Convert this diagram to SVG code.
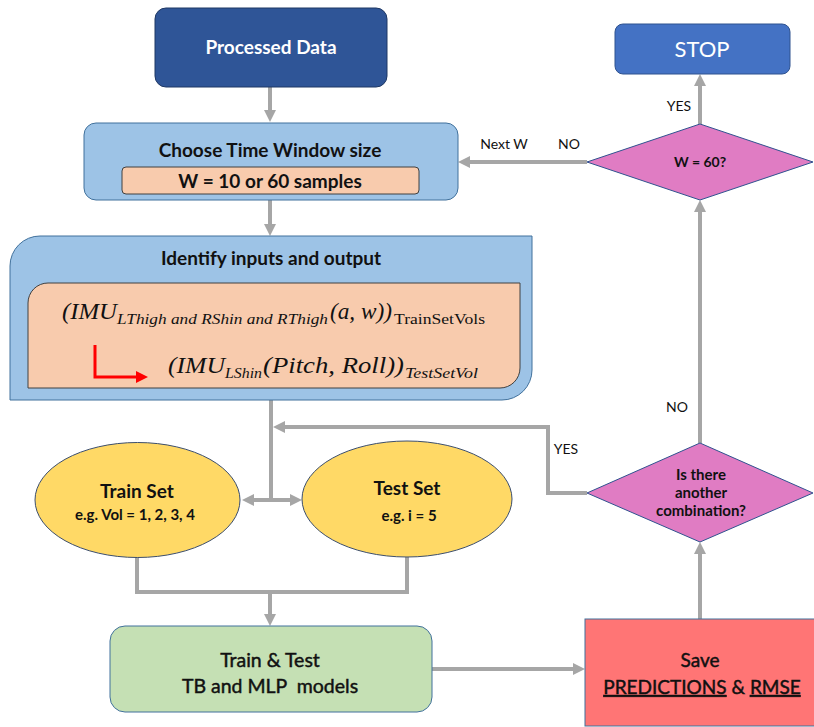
<svg xmlns="http://www.w3.org/2000/svg" width="814" height="727" viewBox="0 0 814 727">
  <style>
    .lbl { font-family: "Lato", "Liberation Sans", sans-serif; fill: #111; text-anchor: middle; }
    .b { font-weight: bold; }
    .semi { stroke: #111; stroke-width: 0.45; }
    .small { font-size: 14px; }
    .math { font-family: "Liberation Serif", "DejaVu Serif", serif; fill: #111; }
    .it { font-style: italic; }
    .conn { stroke: #A6A6A6; stroke-width: 4; fill: none; }
    .arr { marker-end: url(#head); }
  </style>
  <defs>
    <marker id="head" markerUnits="userSpaceOnUse" markerWidth="12" markerHeight="12" viewBox="0 0 12 12" refX="5" refY="6" orient="auto">
      <path d="M0,0 L12,6 L0,12 Z" fill="#A6A6A6"/>
    </marker>
    <marker id="redhead" markerUnits="userSpaceOnUse" markerWidth="12" markerHeight="12" viewBox="0 0 12 12" refX="4" refY="6" orient="auto">
      <path d="M0,0 L12,6 L0,12 Z" fill="#FF0000"/>
    </marker>
  </defs>

  <rect width="814" height="727" fill="#FFFFFF"/>

  <!-- connectors -->
  <g id="connectors">
    <path class="conn arr" d="M270,87 V115"/>
    <path class="conn arr" d="M270,200 V229"/>
    <path class="conn" d="M271,400 V500"/>
    <path class="conn arr" d="M273,500 H249"/>
    <path class="conn arr" d="M269,500 H295"/>
    <path class="conn" d="M137,557 V592 H407 V557"/>
    <path class="conn arr" d="M270,592 V619"/>
    <path class="conn arr" d="M432,669 H578"/>
    <path class="conn arr" d="M700,619 V549"/>
    <path class="conn arr" d="M700,443 V207"/>
    <path class="conn arr" d="M700,124 V81"/>
    <path class="conn arr" d="M587,162 H465"/>
    <path class="conn arr" d="M587,493 H548 V427 H280"/>
  </g>

  <!-- connector labels -->
  <g id="connector-labels">
    <text class="lbl small" x="504" y="149">Next W</text>
    <text class="lbl small" x="569" y="149">NO</text>
    <text class="lbl small" x="679" y="111">YES</text>
    <text class="lbl small" x="566" y="454">YES</text>
    <text class="lbl small" x="677" y="412">NO</text>
  </g>

  <g id="processed-data">
    <rect x="155" y="8" width="232" height="79" rx="11" fill="#2F5597" stroke="#1F3864" stroke-width="1"/>
    <text class="lbl b" x="271" y="54" font-size="19" style="fill:#FFFFFF">Processed Data</text>
  </g>

  <g id="choose-window">
    <rect x="84" y="123" width="374" height="77" rx="12" fill="#9DC3E6" stroke="#41719C" stroke-width="1"/>
    <text class="lbl b" x="270" y="157" font-size="19">Choose Time Window size</text>
    <rect x="122" y="167" width="297" height="27" rx="4" fill="#F8CBAD" stroke="#404040" stroke-width="1"/>
    <text class="lbl b" x="270" y="188" font-size="19">W = 10 or 60 samples</text>
  </g>

  <g id="identify-io">
    <path d="M40,236 H532 V370 A30,30 0 0 1 502,400 H10 V266 A30,30 0 0 1 40,236 Z" fill="#9DC3E6" stroke="#41719C" stroke-width="1"/>
    <text class="lbl b" x="271" y="265" font-size="19">Identify inputs and output</text>
    <path d="M48,283 H520 V368 A20,20 0 0 1 500,388 H28 V303 A20,20 0 0 1 48,283 Z" fill="#F8CBAD" stroke="#404040" stroke-width="1"/>
    <!-- first expression -->
    <text class="math it" x="62" y="319" font-size="24" textLength="55" lengthAdjust="spacingAndGlyphs">(IMU</text>
    <text class="math it" x="117" y="324" font-size="15" textLength="211" lengthAdjust="spacingAndGlyphs">LThigh and RShin and RThigh</text>
    <text class="math it" x="330" y="319" font-size="24" textLength="62" lengthAdjust="spacingAndGlyphs">(a, w))</text>
    <text class="math" x="394" y="324" font-size="15" textLength="91" lengthAdjust="spacingAndGlyphs">TrainSetVols</text>
    <!-- red bent arrow -->
    <path d="M95,345 V377 H140" fill="none" stroke="#FF0000" stroke-width="3" marker-end="url(#redhead)"/>
    <!-- second expression -->
    <text class="math it" x="168" y="373" font-size="24" textLength="57" lengthAdjust="spacingAndGlyphs">(IMU</text>
    <text class="math it" x="225" y="378" font-size="15" textLength="37" lengthAdjust="spacingAndGlyphs">LShin</text>
    <text class="math it" x="263" y="373" font-size="24" textLength="141" lengthAdjust="spacingAndGlyphs">(Pitch, Roll))</text>
    <text class="math it" x="405" y="378" font-size="15" textLength="73" lengthAdjust="spacingAndGlyphs">TestSetVol</text>
  </g>

  <g id="train-set">
    <ellipse cx="137.5" cy="500" rx="102.5" ry="57.5" fill="#FFD966" stroke="#3B4E6E" stroke-width="1"/>
    <text class="lbl b" x="137" y="498" font-size="19">Train Set</text>
    <text class="lbl b" x="135" y="520" font-size="15">e.g. Vol = 1, 2, 3, 4</text>
  </g>

  <g id="test-set">
    <ellipse cx="407" cy="499" rx="105" ry="58" fill="#FFD966" stroke="#3B4E6E" stroke-width="1"/>
    <text class="lbl b" x="407" y="495" font-size="19">Test Set</text>
    <text class="lbl b" x="409" y="521" font-size="15">e.g. i = 5</text>
  </g>

  <g id="train-test">
    <rect x="110" y="626" width="322" height="86" rx="15" fill="#C5E0B4" stroke="#41719C" stroke-width="1"/>
    <text class="lbl semi" x="270" y="667" font-size="19.5">Train &amp; Test</text>
    <text class="lbl semi" x="270" y="693" font-size="19.5" style="white-space:pre">TB and MLP  models</text>
  </g>

  <g id="save">
    <rect x="585" y="619" width="232" height="107" fill="#FF7575" stroke="#41719C" stroke-width="1"/>
    <text class="lbl semi" x="700" y="667" font-size="19">Save</text>
    <text class="lbl semi" x="702" y="694" font-size="19"><tspan text-decoration="underline">PREDICTIONS</tspan> &amp; <tspan text-decoration="underline">RMSE</tspan></text>
  </g>

  <g id="another-combination">
    <polygon points="700,443 813,493 700,542 587,493" fill="#E07CC3" stroke="#2F528F" stroke-width="1"/>
    <text class="lbl b" x="701" y="480" font-size="15">Is there</text>
    <text class="lbl b" x="701" y="498" font-size="15">another</text>
    <text class="lbl b" x="701" y="516" font-size="15">combination?</text>
  </g>

  <g id="w-check">
    <polygon points="700,124 813,162 700,200 587,162" fill="#E07CC3" stroke="#2F528F" stroke-width="1"/>
    <text class="lbl b" x="700" y="167" font-size="14">W = 60?</text>
  </g>

  <g id="stop">
    <rect x="615" y="24" width="175" height="50" rx="8" fill="#4472C4" stroke="#2F528F" stroke-width="1"/>
    <text class="lbl" x="702" y="57" font-size="22" style="fill:#FFFFFF">STOP</text>
  </g>
</svg>
